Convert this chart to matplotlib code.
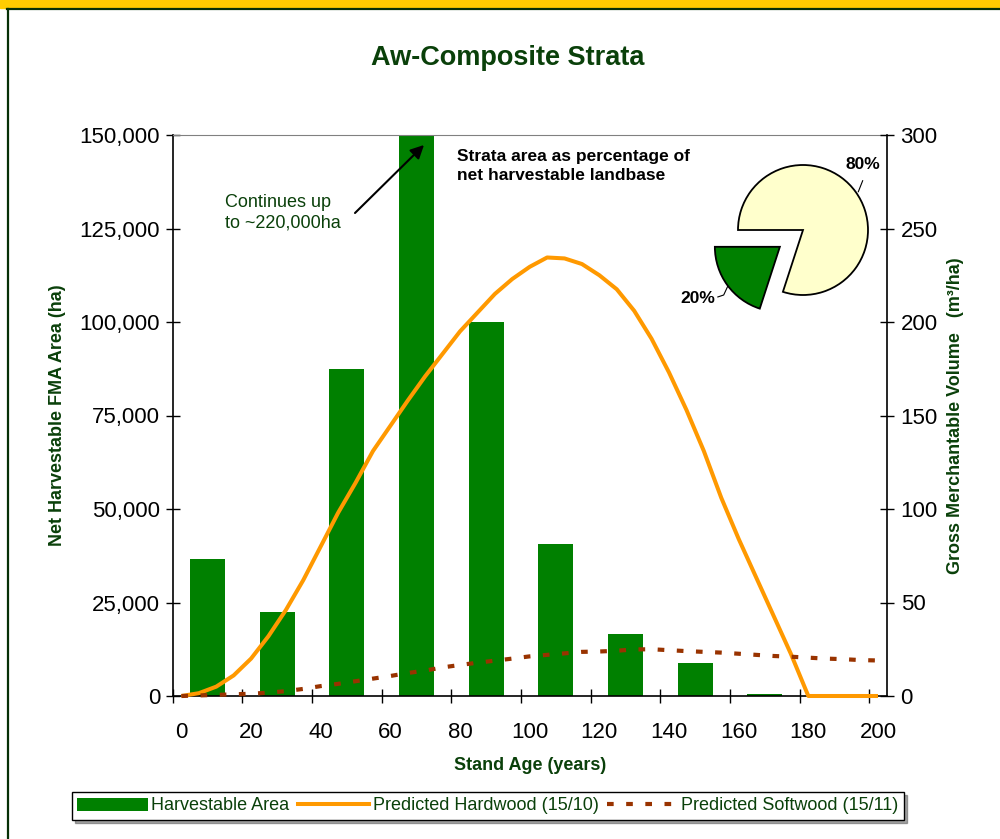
import numpy as np
import matplotlib
matplotlib.use("Agg")
import matplotlib.pyplot as plt
from matplotlib.patches import Rectangle, Patch
from matplotlib.lines import Line2D
from matplotlib.ticker import FuncFormatter

plt.rcParams['font.family'] = ['Liberation Sans', 'DejaVu Sans']

# ---------------- data ----------------
title = "Aw-Composite Strata"
bar_age_class = [10, 30, 50, 70, 90, 110, 130, 150, 170]
harvest_area = [36600, 22500, 87400, 220000, 100000, 40600, 16600, 8800, 500]

curve_ages = [0, 5, 10, 15, 20, 25, 30, 35, 40, 45, 50, 55, 60, 65, 70, 75, 80,
              85, 90, 95, 100, 105, 110, 115, 120, 125, 130, 135, 140, 145, 150,
              155, 160, 165, 170, 175, 180, 185, 190, 195, 200]
hardwood = [0, 1.5, 5, 11, 20, 32, 46, 62, 80, 98, 114, 131, 144.5, 158, 171, 183,
            195, 205, 215, 223, 229.5, 234.5, 234, 231, 225, 217.5, 206, 191, 173,
            153, 131, 106, 84, 63.5, 43, 22.5, 0, 0, 0, 0, 0]
softwood = [0, 0.3, 0.6, 0.9, 1.2, 1.8, 2.6, 3.8, 5.3, 6.5, 7.9, 9.3, 10.7, 12.3,
            13.6, 15.3, 16.6, 17.8, 18.9, 20.0, 21.2, 22.0, 22.8, 23.6, 23.8, 24.2,
            24.9, 25.0, 24.5, 24.0, 23.6, 23.2, 22.6, 22.0, 21.4, 21.0, 20.5, 20.0,
            19.7, 19.2, 19.0]

x_tick_labels = [0, 20, 40, 60, 80, 100, 120, 140, 160, 180, 200]
left_ticks = [0, 25000, 50000, 75000, 100000, 125000, 150000]
right_ticks = [0, 50, 100, 150, 200, 250, 300]

pie_labels = ["20%", "80%"]
pie_values = [20, 80]

legend_labels = ["Harvestable Area", "Predicted Hardwood (15/10)", "Predicted Softwood (15/11)"]

# ---------------- style ----------------
GREEN = '#008000'
ORANGE = '#FF9900'
BROWN = '#993300'
DKGREEN = '#0a400a'
W, H = 1000, 839
SOFT_LS = (0, (1.6, 3.0))
SOFT_LW = 3.0

fig = plt.figure(figsize=(10, 8.39), dpi=100)
fig.patch.set_facecolor('white')

def fx(px):
    return px / W

def fy(py):
    return 1 - py / H

# frame decorations
fig.add_artist(Rectangle((0, fy(8)), 1, 8 / H, transform=fig.transFigure,
                         color='#FFCC00', zorder=0))
fig.add_artist(Line2D([fx(6.5), 1], [fy(9), fy(9)], transform=fig.transFigure,
                      color='#063006', lw=1.6))
fig.add_artist(Line2D([fx(7.5), fx(7.5)], [fy(9), 0], transform=fig.transFigure,
                      color='#063006', lw=1.6))

# main axes
ax = fig.add_axes([fx(172.7), fy(696), (886.7 - 172.7) / W, (696 - 135) / H])
ax.bar(np.array(bar_age_class) - 2.5, harvest_area, width=10, color=GREEN,
       zorder=1)
ax.set_xlim(-2.5, 202.5)
ax.set_ylim(0, 150000)

ax.set_xticks(x_tick_labels)
ax.set_xticklabels([str(v) for v in x_tick_labels])
ax.set_xticks(np.array(x_tick_labels) - 2.5, minor=True)
ax.tick_params(axis='x', which='major', length=0, pad=19, labelsize=16,
               labelcolor='black')
ax.tick_params(axis='x', which='minor', direction='inout', length=10, width=1,
               color='black')
ax.set_yticks(left_ticks)
ax.yaxis.set_major_formatter(FuncFormatter(lambda v, p: f"{int(v):,}"))
ax.tick_params(axis='y', direction='inout', length=10, width=1, labelsize=16,
               pad=4, labelcolor='black')
ax.spines['top'].set_color('#808080')
ax.spines['right'].set_visible(False)
for s in ('left', 'bottom'):
    ax.spines[s].set_color('black')
    ax.spines[s].set_linewidth(1.2)

ax2 = ax.twinx()
ax2.set_ylim(0, 300)
ax2.plot(curve_ages, hardwood, color=ORANGE, lw=2.9, clip_on=False,
         solid_capstyle='butt', zorder=3)
ax2.plot(curve_ages, softwood, color=BROWN, lw=SOFT_LW, ls=SOFT_LS,
         clip_on=False, zorder=3)
ax2.set_yticks(right_ticks)
ax2.tick_params(axis='y', direction='inout', length=10, width=1, labelsize=16,
                pad=5, labelcolor='black')
for s in ('top', 'left', 'bottom'):
    ax2.spines[s].set_visible(False)
ax2.spines['right'].set_color('black')
ax2.spines['right'].set_linewidth(1.2)

# axis labels / title
fig.text(0.508, fy(58), title, fontsize=19.5, fontweight='bold', color=DKGREEN,
         ha='center', va='center')
fig.text(fx(57), fy(415.5), "Net Harvestable FMA Area (ha)", rotation=90,
         fontsize=13, fontweight='bold', color=DKGREEN, ha='center', va='center')
fig.text(fx(955), fy(416), "Gross Merchantable Volume   (m\u00b3/ha)", rotation=90,
         fontsize=13, fontweight='bold', color=DKGREEN, ha='center', va='center')
fig.text(fx(529.7), fy(765), "Stand Age (years)", fontsize=13, fontweight='bold',
         color=DKGREEN, ha='center', va='center')

# annotations
fig.text(fx(225), fy(213), "Continues up\nto ~220,000ha", fontsize=13,
         color=DKGREEN, ha='left', va='center', linespacing=1.25)
ax.annotate('', xy=(fx(424), fy(145)), xycoords='figure fraction',
            xytext=(fx(355), fy(213)), textcoords='figure fraction',
            arrowprops=dict(arrowstyle='-|>', color='black', lw=1.5,
                            mutation_scale=20, shrinkA=0, shrinkB=0))
fig.text(fx(457), fy(166), "Strata area as percentage of\nnet harvestable landbase",
         fontsize=12.5, fontweight='bold', color='black', ha='left', va='center',
         linespacing=1.3)

# pie inset
R = 65.0
pw = 200
axp = fig.add_axes([fx(803 - pw / 2), fy(230 + pw / 2), pw / W, pw / H])
axp.pie(pie_values, colors=[GREEN, '#FFFFCC'], startangle=180, counterclock=True,
        explode=[0.44, 0], radius=1,
        wedgeprops=dict(edgecolor='black', linewidth=1.3))
L = pw / 2 / R
axp.set_xlim(-L, L)
axp.set_ylim(-L, L)
axp.set_aspect('equal')
axp.axis('off')
axp.text(0.928, 1.015, pie_labels[1], fontsize=12.5, fontweight='bold',
         ha='center', va='center')
axp.plot([0.851, 0.918], [0.589, 0.758], color='black', lw=0.8)
axp.text(-1.615, -1.06, pie_labels[0], fontsize=12.5, fontweight='bold',
         ha='center', va='center')
axp.plot([-1.31, -1.22, -1.16], [-1.03, -1.0, -0.87], color='black', lw=0.8)

# legend
handles = [Patch(facecolor=GREEN, edgecolor='none'),
           Line2D([], [], color=ORANGE, lw=2.9),
           Line2D([], [], color=BROWN, lw=SOFT_LW, ls=SOFT_LS)]
leg = fig.legend(handles, legend_labels, loc='center',
                 bbox_to_anchor=(fx(488), fy(806)), ncol=3, frameon=True,
                 fancybox=False, shadow=True, edgecolor='black', fontsize=13,
                 handlelength=3.9, handletextpad=0.2, columnspacing=0.5,
                 borderpad=0.3, borderaxespad=0, labelcolor=DKGREEN)
leg.get_frame().set_linewidth(1.0)

fig.savefig("out.png", dpi=100, facecolor='white')
